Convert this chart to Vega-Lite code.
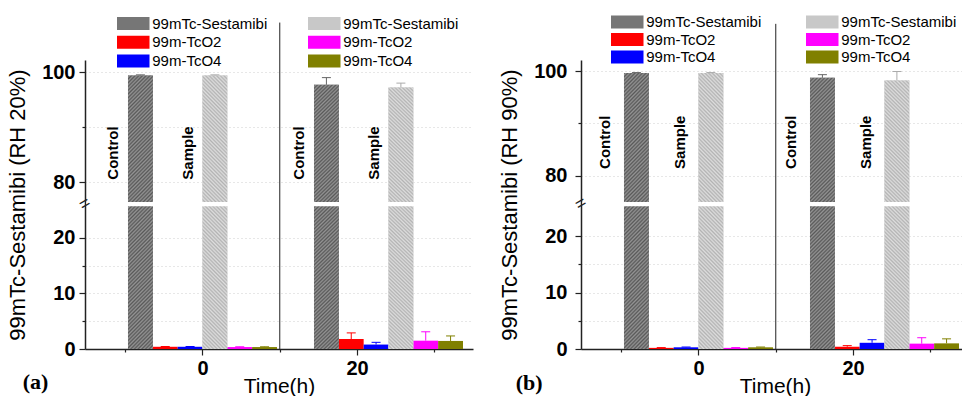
{
  "$schema": "https://vega.github.io/schema/vega-lite/v6.json",
  "padding": {"left": 6, "top": 14, "right": 0, "bottom": 0},
  "config": {
    "font": "Liberation Sans",
    "view": {"stroke": null},
    "axis": {"labelFont": "Liberation Sans", "titleFont": "Liberation Sans", "labelColor": "black", "titleColor": "black", "domainColor": "#222", "tickColor": "#222", "domainWidth": 1.5, "tickWidth": 1.2},
    "legend": {"labelFont": "Liberation Sans", "labelFontSize": 15}
  },
  "datasets": {
    "a": [
      {"time": 0, "group": "Control", "species": "99mTc-Sestamibi", "series": "C-Sestamibi", "value": 99.4, "upper": 99.5},
      {"time": 0, "group": "Control", "species": "99m-TcO2", "series": "C-TcO2", "value": 0.4, "upper": 0.45},
      {"time": 0, "group": "Control", "species": "99m-TcO4", "series": "C-TcO4", "value": 0.4, "upper": 0.45},
      {"time": 0, "group": "Sample", "species": "99mTc-Sestamibi", "series": "S-Sestamibi", "value": 99.4, "upper": 99.5},
      {"time": 0, "group": "Sample", "species": "99m-TcO2", "series": "S-TcO2", "value": 0.35, "upper": 0.4},
      {"time": 0, "group": "Sample", "species": "99m-TcO4", "series": "S-TcO4", "value": 0.35, "upper": 0.4},
      {"time": 20, "group": "Control", "species": "99mTc-Sestamibi", "series": "C-Sestamibi", "value": 97.7, "upper": 99.0},
      {"time": 20, "group": "Control", "species": "99m-TcO2", "series": "C-TcO2", "value": 1.8, "upper": 2.9},
      {"time": 20, "group": "Control", "species": "99m-TcO4", "series": "C-TcO4", "value": 0.8, "upper": 1.2},
      {"time": 20, "group": "Sample", "species": "99mTc-Sestamibi", "series": "S-Sestamibi", "value": 97.2, "upper": 98.0},
      {"time": 20, "group": "Sample", "species": "99m-TcO2", "series": "S-TcO2", "value": 1.5, "upper": 3.1},
      {"time": 20, "group": "Sample", "species": "99m-TcO4", "series": "S-TcO4", "value": 1.45, "upper": 2.35}
    ],
    "b": [
      {"time": 0, "group": "Control", "species": "99mTc-Sestamibi", "series": "C-Sestamibi", "value": 99.6, "upper": 99.7},
      {"time": 0, "group": "Control", "species": "99m-TcO2", "series": "C-TcO2", "value": 0.2, "upper": 0.25},
      {"time": 0, "group": "Control", "species": "99m-TcO4", "series": "C-TcO4", "value": 0.3, "upper": 0.35},
      {"time": 0, "group": "Sample", "species": "99mTc-Sestamibi", "series": "S-Sestamibi", "value": 99.6, "upper": 99.7},
      {"time": 0, "group": "Sample", "species": "99m-TcO2", "series": "S-TcO2", "value": 0.2, "upper": 0.25},
      {"time": 0, "group": "Sample", "species": "99m-TcO4", "series": "S-TcO4", "value": 0.3, "upper": 0.35},
      {"time": 20, "group": "Control", "species": "99mTc-Sestamibi", "series": "C-Sestamibi", "value": 98.7, "upper": 99.3},
      {"time": 20, "group": "Control", "species": "99m-TcO2", "series": "C-TcO2", "value": 0.4, "upper": 0.6},
      {"time": 20, "group": "Control", "species": "99m-TcO4", "series": "C-TcO4", "value": 1.1, "upper": 1.65},
      {"time": 20, "group": "Sample", "species": "99mTc-Sestamibi", "series": "S-Sestamibi", "value": 98.2, "upper": 99.9},
      {"time": 20, "group": "Sample", "species": "99m-TcO2", "series": "S-TcO2", "value": 0.95, "upper": 2.0},
      {"time": 20, "group": "Sample", "species": "99m-TcO4", "series": "S-TcO4", "value": 1.0, "upper": 1.8}
    ]
  },
  "spacing": 25,
  "resolve": {"scale": {"color": "independent", "fill": "independent", "stroke": "independent"}, "legend": {"color": "independent", "fill": "independent"}},
  "hconcat": [
    {
      "width": 388,
      "height": 289,
      "resolve": {"scale": {"x": "independent"}},
      "layer": [
        {
          "data": {"name": "a"},
          "encoding": {
            "x": {"field": "time", "type": "ordinal", "scale": {"domain": [0, 20], "paddingInner": 0.199, "paddingOuter": 0.1425, "align": 0.811}, "axis": null},
            "xOffset": {"field": "series", "type": "nominal", "scale": {"domain": ["C-Sestamibi", "C-TcO2", "C-TcO4", "S-Sestamibi", "S-TcO2", "S-TcO4"], "paddingInner": 0, "paddingOuter": 0}}
          },
          "layer": [
            {
              "transform": [{"filter": "datum.group == 'Control'"}],
              "mark": {"type": "bar"},
              "encoding": {
                "y": {"field": "value", "type": "quantitative",
                  "scale": {"domain": [0, 25.7, 76.4, 102.2], "range": [289, 146.3, 142, 0], "nice": false, "zero": false},
                  "axis": {"values": [0, 5, 10, 15, 20, 80, 90, 100],
                    "labelExpr": "indexof([0, 10, 20, 80, 100], datum.value) >= 0 ? datum.label : ''",
                    "tickSize": {"condition": {"test": "indexof([0, 10, 20, 80, 100], datum.value) >= 0", "value": 6}, "value": 3},
                    "grid": true, "gridDash": [1, 3], "gridColor": "#cfcfcf",
                    "title": "99mTc-Sestamibi (RH 20%)", "titleFontSize": 22, "titleFontWeight": "normal", "titlePadding": 12,
                    "labelFontSize": 20, "labelFontWeight": "bold", "labelPadding": 4}},
                "color": {"field": "species", "type": "nominal",
                  "scale": {"domain": ["99mTc-Sestamibi", "99m-TcO2", "99m-TcO4"], "range": ["#767676", "#ff0000", "#0000ff"]},
                  "legend": {"orient": "none", "legendX": 35, "legendY": -44, "title": null, "padding": 0,
                    "symbolType": "M-2.5,-1H2.5V1H-2.5Z", "symbolSize": 169, "symbolStrokeWidth": 0, "symbolOffset": 5.75,
                    "labelOffset": 11.5, "labelFontSize": 15, "labelColor": "black", "rowPadding": 2.8, "labelLimit": 300}}
              }
            },
            {
              "transform": [{"filter": "datum.group == 'Sample'"}],
              "mark": {"type": "bar"},
              "encoding": {
                "y": {"field": "value", "type": "quantitative"},
                "fill": {"field": "series", "type": "nominal",
                  "scale": {"domain": ["S-Sestamibi", "S-TcO2", "S-TcO4"], "range": ["#c8c8c8", "#ff00ff", "#808000"]},
                  "legend": {"orient": "none", "legendX": 226, "legendY": -44, "title": null, "padding": 0,
                    "labelExpr": "datum.label == 'S-Sestamibi' ? '99mTc-Sestamibi' : datum.label == 'S-TcO2' ? '99m-TcO2' : '99m-TcO4'",
                    "symbolType": "M-2.5,-1H2.5V1H-2.5Z", "symbolSize": 169, "symbolStrokeWidth": 0, "symbolOffset": 5.75,
                    "labelOffset": 11.5, "labelFontSize": 15, "labelColor": "black", "rowPadding": 2.8, "labelLimit": 300}}
              }
            },
            {
              "transform": [{"filter": "datum.series == 'C-Sestamibi'"}],
              "mark": {"type": "bar", "fill": {"gradient": "linear", "x1": 0, "y1": 0, "x2": 0.0996, "y2": 1.083, "stops": [
        {"offset":0,"color":"#595959"},{"offset":0.00625,"color":"#949494"},{"offset":0.0125,"color":"#595959"},{"offset":0.01875,"color":"#949494"},{"offset":0.025,"color":"#595959"},{"offset":0.03125,"color":"#949494"},{"offset":0.0375,"color":"#595959"},{"offset":0.04375,"color":"#949494"},{"offset":0.05,"color":"#595959"},{"offset":0.05625,"color":"#949494"},{"offset":0.0625,"color":"#595959"},{"offset":0.06875,"color":"#949494"},{"offset":0.075,"color":"#595959"},{"offset":0.08125,"color":"#949494"},{"offset":0.0875,"color":"#595959"},{"offset":0.09375,"color":"#949494"},
        {"offset":0.1,"color":"#595959"},{"offset":0.10625,"color":"#949494"},{"offset":0.1125,"color":"#595959"},{"offset":0.11875,"color":"#949494"},{"offset":0.125,"color":"#595959"},{"offset":0.13125,"color":"#949494"},{"offset":0.1375,"color":"#595959"},{"offset":0.14375,"color":"#949494"},{"offset":0.15,"color":"#595959"},{"offset":0.15625,"color":"#949494"},{"offset":0.1625,"color":"#595959"},{"offset":0.16875,"color":"#949494"},{"offset":0.175,"color":"#595959"},{"offset":0.18125,"color":"#949494"},{"offset":0.1875,"color":"#595959"},{"offset":0.19375,"color":"#949494"},
        {"offset":0.2,"color":"#595959"},{"offset":0.20625,"color":"#949494"},{"offset":0.2125,"color":"#595959"},{"offset":0.21875,"color":"#949494"},{"offset":0.225,"color":"#595959"},{"offset":0.23125,"color":"#949494"},{"offset":0.2375,"color":"#595959"},{"offset":0.24375,"color":"#949494"},{"offset":0.25,"color":"#595959"},{"offset":0.25625,"color":"#949494"},{"offset":0.2625,"color":"#595959"},{"offset":0.26875,"color":"#949494"},{"offset":0.275,"color":"#595959"},{"offset":0.28125,"color":"#949494"},{"offset":0.2875,"color":"#595959"},{"offset":0.29375,"color":"#949494"},
        {"offset":0.3,"color":"#595959"},{"offset":0.30625,"color":"#949494"},{"offset":0.3125,"color":"#595959"},{"offset":0.31875,"color":"#949494"},{"offset":0.325,"color":"#595959"},{"offset":0.33125,"color":"#949494"},{"offset":0.3375,"color":"#595959"},{"offset":0.34375,"color":"#949494"},{"offset":0.35,"color":"#595959"},{"offset":0.35625,"color":"#949494"},{"offset":0.3625,"color":"#595959"},{"offset":0.36875,"color":"#949494"},{"offset":0.375,"color":"#595959"},{"offset":0.38125,"color":"#949494"},{"offset":0.3875,"color":"#595959"},{"offset":0.39375,"color":"#949494"},
        {"offset":0.4,"color":"#595959"},{"offset":0.40625,"color":"#949494"},{"offset":0.4125,"color":"#595959"},{"offset":0.41875,"color":"#949494"},{"offset":0.425,"color":"#595959"},{"offset":0.43125,"color":"#949494"},{"offset":0.4375,"color":"#595959"},{"offset":0.44375,"color":"#949494"},{"offset":0.45,"color":"#595959"},{"offset":0.45625,"color":"#949494"},{"offset":0.4625,"color":"#595959"},{"offset":0.46875,"color":"#949494"},{"offset":0.475,"color":"#595959"},{"offset":0.48125,"color":"#949494"},{"offset":0.4875,"color":"#595959"},{"offset":0.49375,"color":"#949494"},
        {"offset":0.5,"color":"#595959"},{"offset":0.50625,"color":"#949494"},{"offset":0.5125,"color":"#595959"},{"offset":0.51875,"color":"#949494"},{"offset":0.525,"color":"#595959"},{"offset":0.53125,"color":"#949494"},{"offset":0.5375,"color":"#595959"},{"offset":0.54375,"color":"#949494"},{"offset":0.55,"color":"#595959"},{"offset":0.55625,"color":"#949494"},{"offset":0.5625,"color":"#595959"},{"offset":0.56875,"color":"#949494"},{"offset":0.575,"color":"#595959"},{"offset":0.58125,"color":"#949494"},{"offset":0.5875,"color":"#595959"},{"offset":0.59375,"color":"#949494"},
        {"offset":0.6,"color":"#595959"},{"offset":0.60625,"color":"#949494"},{"offset":0.6125,"color":"#595959"},{"offset":0.61875,"color":"#949494"},{"offset":0.625,"color":"#595959"},{"offset":0.63125,"color":"#949494"},{"offset":0.6375,"color":"#595959"},{"offset":0.64375,"color":"#949494"},{"offset":0.65,"color":"#595959"},{"offset":0.65625,"color":"#949494"},{"offset":0.6625,"color":"#595959"},{"offset":0.66875,"color":"#949494"},{"offset":0.675,"color":"#595959"},{"offset":0.68125,"color":"#949494"},{"offset":0.6875,"color":"#595959"},{"offset":0.69375,"color":"#949494"},
        {"offset":0.7,"color":"#595959"},{"offset":0.70625,"color":"#949494"},{"offset":0.7125,"color":"#595959"},{"offset":0.71875,"color":"#949494"},{"offset":0.725,"color":"#595959"},{"offset":0.73125,"color":"#949494"},{"offset":0.7375,"color":"#595959"},{"offset":0.74375,"color":"#949494"},{"offset":0.75,"color":"#595959"},{"offset":0.75625,"color":"#949494"},{"offset":0.7625,"color":"#595959"},{"offset":0.76875,"color":"#949494"},{"offset":0.775,"color":"#595959"},{"offset":0.78125,"color":"#949494"},{"offset":0.7875,"color":"#595959"},{"offset":0.79375,"color":"#949494"},
        {"offset":0.8,"color":"#595959"},{"offset":0.80625,"color":"#949494"},{"offset":0.8125,"color":"#595959"},{"offset":0.81875,"color":"#949494"},{"offset":0.825,"color":"#595959"},{"offset":0.83125,"color":"#949494"},{"offset":0.8375,"color":"#595959"},{"offset":0.84375,"color":"#949494"},{"offset":0.85,"color":"#595959"},{"offset":0.85625,"color":"#949494"},{"offset":0.8625,"color":"#595959"},{"offset":0.86875,"color":"#949494"},{"offset":0.875,"color":"#595959"},{"offset":0.88125,"color":"#949494"},{"offset":0.8875,"color":"#595959"},{"offset":0.89375,"color":"#949494"},
        {"offset":0.9,"color":"#595959"},{"offset":0.90625,"color":"#949494"},{"offset":0.9125,"color":"#595959"},{"offset":0.91875,"color":"#949494"},{"offset":0.925,"color":"#595959"},{"offset":0.93125,"color":"#949494"},{"offset":0.9375,"color":"#595959"},{"offset":0.94375,"color":"#949494"},{"offset":0.95,"color":"#595959"},{"offset":0.95625,"color":"#949494"},{"offset":0.9625,"color":"#595959"},{"offset":0.96875,"color":"#949494"},{"offset":0.975,"color":"#595959"},{"offset":0.98125,"color":"#949494"},{"offset":0.9875,"color":"#595959"},{"offset":0.99375,"color":"#949494"},
        {"offset":1,"color":"#595959"}]}},
              "encoding": {"y": {"field": "value", "type": "quantitative"}}
            },
            {
              "transform": [{"filter": "datum.series == 'S-Sestamibi'"}],
              "mark": {"type": "bar", "fill": {"gradient": "linear", "x1": 0, "y1": 1, "x2": 0.0996, "y2": -0.083, "stops": [
        {"offset":0,"color":"#b3b3b3"},{"offset":0.00625,"color":"#dddddd"},{"offset":0.0125,"color":"#b3b3b3"},{"offset":0.01875,"color":"#dddddd"},{"offset":0.025,"color":"#b3b3b3"},{"offset":0.03125,"color":"#dddddd"},{"offset":0.0375,"color":"#b3b3b3"},{"offset":0.04375,"color":"#dddddd"},{"offset":0.05,"color":"#b3b3b3"},{"offset":0.05625,"color":"#dddddd"},{"offset":0.0625,"color":"#b3b3b3"},{"offset":0.06875,"color":"#dddddd"},{"offset":0.075,"color":"#b3b3b3"},{"offset":0.08125,"color":"#dddddd"},{"offset":0.0875,"color":"#b3b3b3"},{"offset":0.09375,"color":"#dddddd"},
        {"offset":0.1,"color":"#b3b3b3"},{"offset":0.10625,"color":"#dddddd"},{"offset":0.1125,"color":"#b3b3b3"},{"offset":0.11875,"color":"#dddddd"},{"offset":0.125,"color":"#b3b3b3"},{"offset":0.13125,"color":"#dddddd"},{"offset":0.1375,"color":"#b3b3b3"},{"offset":0.14375,"color":"#dddddd"},{"offset":0.15,"color":"#b3b3b3"},{"offset":0.15625,"color":"#dddddd"},{"offset":0.1625,"color":"#b3b3b3"},{"offset":0.16875,"color":"#dddddd"},{"offset":0.175,"color":"#b3b3b3"},{"offset":0.18125,"color":"#dddddd"},{"offset":0.1875,"color":"#b3b3b3"},{"offset":0.19375,"color":"#dddddd"},
        {"offset":0.2,"color":"#b3b3b3"},{"offset":0.20625,"color":"#dddddd"},{"offset":0.2125,"color":"#b3b3b3"},{"offset":0.21875,"color":"#dddddd"},{"offset":0.225,"color":"#b3b3b3"},{"offset":0.23125,"color":"#dddddd"},{"offset":0.2375,"color":"#b3b3b3"},{"offset":0.24375,"color":"#dddddd"},{"offset":0.25,"color":"#b3b3b3"},{"offset":0.25625,"color":"#dddddd"},{"offset":0.2625,"color":"#b3b3b3"},{"offset":0.26875,"color":"#dddddd"},{"offset":0.275,"color":"#b3b3b3"},{"offset":0.28125,"color":"#dddddd"},{"offset":0.2875,"color":"#b3b3b3"},{"offset":0.29375,"color":"#dddddd"},
        {"offset":0.3,"color":"#b3b3b3"},{"offset":0.30625,"color":"#dddddd"},{"offset":0.3125,"color":"#b3b3b3"},{"offset":0.31875,"color":"#dddddd"},{"offset":0.325,"color":"#b3b3b3"},{"offset":0.33125,"color":"#dddddd"},{"offset":0.3375,"color":"#b3b3b3"},{"offset":0.34375,"color":"#dddddd"},{"offset":0.35,"color":"#b3b3b3"},{"offset":0.35625,"color":"#dddddd"},{"offset":0.3625,"color":"#b3b3b3"},{"offset":0.36875,"color":"#dddddd"},{"offset":0.375,"color":"#b3b3b3"},{"offset":0.38125,"color":"#dddddd"},{"offset":0.3875,"color":"#b3b3b3"},{"offset":0.39375,"color":"#dddddd"},
        {"offset":0.4,"color":"#b3b3b3"},{"offset":0.40625,"color":"#dddddd"},{"offset":0.4125,"color":"#b3b3b3"},{"offset":0.41875,"color":"#dddddd"},{"offset":0.425,"color":"#b3b3b3"},{"offset":0.43125,"color":"#dddddd"},{"offset":0.4375,"color":"#b3b3b3"},{"offset":0.44375,"color":"#dddddd"},{"offset":0.45,"color":"#b3b3b3"},{"offset":0.45625,"color":"#dddddd"},{"offset":0.4625,"color":"#b3b3b3"},{"offset":0.46875,"color":"#dddddd"},{"offset":0.475,"color":"#b3b3b3"},{"offset":0.48125,"color":"#dddddd"},{"offset":0.4875,"color":"#b3b3b3"},{"offset":0.49375,"color":"#dddddd"},
        {"offset":0.5,"color":"#b3b3b3"},{"offset":0.50625,"color":"#dddddd"},{"offset":0.5125,"color":"#b3b3b3"},{"offset":0.51875,"color":"#dddddd"},{"offset":0.525,"color":"#b3b3b3"},{"offset":0.53125,"color":"#dddddd"},{"offset":0.5375,"color":"#b3b3b3"},{"offset":0.54375,"color":"#dddddd"},{"offset":0.55,"color":"#b3b3b3"},{"offset":0.55625,"color":"#dddddd"},{"offset":0.5625,"color":"#b3b3b3"},{"offset":0.56875,"color":"#dddddd"},{"offset":0.575,"color":"#b3b3b3"},{"offset":0.58125,"color":"#dddddd"},{"offset":0.5875,"color":"#b3b3b3"},{"offset":0.59375,"color":"#dddddd"},
        {"offset":0.6,"color":"#b3b3b3"},{"offset":0.60625,"color":"#dddddd"},{"offset":0.6125,"color":"#b3b3b3"},{"offset":0.61875,"color":"#dddddd"},{"offset":0.625,"color":"#b3b3b3"},{"offset":0.63125,"color":"#dddddd"},{"offset":0.6375,"color":"#b3b3b3"},{"offset":0.64375,"color":"#dddddd"},{"offset":0.65,"color":"#b3b3b3"},{"offset":0.65625,"color":"#dddddd"},{"offset":0.6625,"color":"#b3b3b3"},{"offset":0.66875,"color":"#dddddd"},{"offset":0.675,"color":"#b3b3b3"},{"offset":0.68125,"color":"#dddddd"},{"offset":0.6875,"color":"#b3b3b3"},{"offset":0.69375,"color":"#dddddd"},
        {"offset":0.7,"color":"#b3b3b3"},{"offset":0.70625,"color":"#dddddd"},{"offset":0.7125,"color":"#b3b3b3"},{"offset":0.71875,"color":"#dddddd"},{"offset":0.725,"color":"#b3b3b3"},{"offset":0.73125,"color":"#dddddd"},{"offset":0.7375,"color":"#b3b3b3"},{"offset":0.74375,"color":"#dddddd"},{"offset":0.75,"color":"#b3b3b3"},{"offset":0.75625,"color":"#dddddd"},{"offset":0.7625,"color":"#b3b3b3"},{"offset":0.76875,"color":"#dddddd"},{"offset":0.775,"color":"#b3b3b3"},{"offset":0.78125,"color":"#dddddd"},{"offset":0.7875,"color":"#b3b3b3"},{"offset":0.79375,"color":"#dddddd"},
        {"offset":0.8,"color":"#b3b3b3"},{"offset":0.80625,"color":"#dddddd"},{"offset":0.8125,"color":"#b3b3b3"},{"offset":0.81875,"color":"#dddddd"},{"offset":0.825,"color":"#b3b3b3"},{"offset":0.83125,"color":"#dddddd"},{"offset":0.8375,"color":"#b3b3b3"},{"offset":0.84375,"color":"#dddddd"},{"offset":0.85,"color":"#b3b3b3"},{"offset":0.85625,"color":"#dddddd"},{"offset":0.8625,"color":"#b3b3b3"},{"offset":0.86875,"color":"#dddddd"},{"offset":0.875,"color":"#b3b3b3"},{"offset":0.88125,"color":"#dddddd"},{"offset":0.8875,"color":"#b3b3b3"},{"offset":0.89375,"color":"#dddddd"},
        {"offset":0.9,"color":"#b3b3b3"},{"offset":0.90625,"color":"#dddddd"},{"offset":0.9125,"color":"#b3b3b3"},{"offset":0.91875,"color":"#dddddd"},{"offset":0.925,"color":"#b3b3b3"},{"offset":0.93125,"color":"#dddddd"},{"offset":0.9375,"color":"#b3b3b3"},{"offset":0.94375,"color":"#dddddd"},{"offset":0.95,"color":"#b3b3b3"},{"offset":0.95625,"color":"#dddddd"},{"offset":0.9625,"color":"#b3b3b3"},{"offset":0.96875,"color":"#dddddd"},{"offset":0.975,"color":"#b3b3b3"},{"offset":0.98125,"color":"#dddddd"},{"offset":0.9875,"color":"#b3b3b3"},{"offset":0.99375,"color":"#dddddd"},
        {"offset":1,"color":"#b3b3b3"}]}},
              "encoding": {"y": {"field": "value", "type": "quantitative"}}
            },
            {
              "mark": {"type": "rule", "strokeWidth": 1},
              "encoding": {
                "y": {"field": "value", "type": "quantitative"},
                "y2": {"field": "upper"},
                "stroke": {"field": "series", "type": "nominal", "legend": null,
                  "scale": {"domain": ["C-Sestamibi", "C-TcO2", "C-TcO4", "S-Sestamibi", "S-TcO2", "S-TcO4"], "range": ["#666666", "#ff0000", "#0000ff", "#aaaaaa", "#ff00ff", "#808000"]}}
              }
            },
            {
              "mark": {"type": "point", "shape": "stroke", "size": 81, "strokeWidth": 1, "opacity": 1},
              "encoding": {
                "y": {"field": "upper", "type": "quantitative"},
                "stroke": {"field": "series", "type": "nominal", "legend": null}
              }
            },
            {
              "transform": [{"filter": "datum.species == '99mTc-Sestamibi'"}],
              "mark": {"type": "text", "angle": 270, "dy": -27, "fontSize": 15, "fontWeight": "bold", "align": "center", "baseline": "middle", "color": "black"},
              "encoding": {
                "y": {"datum": 85.3, "type": "quantitative"},
                "text": {"field": "group"}
              }
            }
          ]
        },
        {
          "data": {"values": [{}]},
          "layer": [
            {
              "mark": {"type": "rect", "color": "white"},
              "encoding": {
                "x": {"datum": -15, "type": "quantitative", "scale": {"domain": [-15.2, 35], "nice": false, "zero": false},
                  "axis": {"values": [-10, 0, 10, 20, 30],
                    "labelExpr": "datum.value == 0 || datum.value == 20 ? datum.label : ''",
                    "tickSize": {"condition": {"test": "datum.value == 0 || datum.value == 20", "value": 6}, "value": 3},
                    "grid": false, "title": "Time(h)", "titleFontSize": 21, "titleFontWeight": "normal", "titlePadding": -3,
                    "labelFontSize": 20, "labelFontWeight": "bold", "labelPadding": 3, "labelFlush": false}},
                "x2": {"datum": 35},
                "y": {"datum": 25.7, "type": "quantitative"},
                "y2": {"datum": 76.4}
              }
            },
            {
              "mark": {"type": "rule", "color": "#222", "strokeWidth": 1},
              "encoding": {
                "x": {"datum": 10, "type": "quantitative"},
                "y": {"datum": 0, "type": "quantitative"},
                "y2": {"datum": 109}
              }
            },
            {
              "mark": {"type": "text", "text": "=", "angle": 330, "fontSize": 18, "color": "#222", "align": "center", "baseline": "middle"},
              "encoding": {
                "x": {"datum": -15.2, "type": "quantitative"},
                "y": {"datum": 50, "type": "quantitative"}
              }
            },
            {
              "mark": {"type": "text", "text": "(a)", "font": "Liberation Serif", "fontWeight": "bold", "fontSize": 22, "color": "black", "align": "center", "baseline": "middle"},
              "encoding": {
                "x": {"datum": -21.6, "type": "quantitative"},
                "y": {"datum": -6.0, "type": "quantitative"}
              }
            }
          ]
        }
      ]
    },
    {
      "width": 388,
      "height": 289,
      "resolve": {"scale": {"x": "independent"}},
      "layer": [
        {
          "data": {"name": "b"},
          "encoding": {
            "x": {"field": "time", "type": "ordinal", "scale": {"domain": [0, 20], "paddingInner": 0.199, "paddingOuter": 0.1425, "align": 0.811}, "axis": null},
            "xOffset": {"field": "series", "type": "nominal", "scale": {"domain": ["C-Sestamibi", "C-TcO2", "C-TcO4", "S-Sestamibi", "S-TcO2", "S-TcO4"], "paddingInner": 0, "paddingOuter": 0}}
          },
          "layer": [
            {
              "transform": [{"filter": "datum.group == 'Control'"}],
              "mark": {"type": "bar"},
              "encoding": {
                "y": {"field": "value", "type": "quantitative",
                  "scale": {"domain": [0, 25.3, 75.0, 102.1], "range": [289, 146.3, 142, 0], "nice": false, "zero": false},
                  "axis": {"values": [0, 5, 10, 15, 20, 80, 90, 100],
                    "labelExpr": "indexof([0, 10, 20, 80, 100], datum.value) >= 0 ? datum.label : ''",
                    "tickSize": {"condition": {"test": "indexof([0, 10, 20, 80, 100], datum.value) >= 0", "value": 6}, "value": 3},
                    "grid": true, "gridDash": [1, 3], "gridColor": "#cfcfcf",
                    "title": "99mTc-Sestamibi (RH 90%)", "titleFontSize": 22, "titleFontWeight": "normal", "titlePadding": 12,
                    "labelFontSize": 20, "labelFontWeight": "bold", "labelPadding": 8}},
                "color": {"field": "species", "type": "nominal",
                  "scale": {"domain": ["99mTc-Sestamibi", "99m-TcO2", "99m-TcO4"], "range": ["#767676", "#ff0000", "#0000ff"]},
                  "legend": {"orient": "none", "legendX": 33, "legendY": -45.5, "title": null, "padding": 0,
                    "symbolType": "M-2.5,-1H2.5V1H-2.5Z", "symbolSize": 169, "symbolStrokeWidth": 0, "symbolOffset": 5.75,
                    "labelOffset": 11.5, "labelFontSize": 15, "labelColor": "black", "rowPadding": 1.5, "labelLimit": 300}}
              }
            },
            {
              "transform": [{"filter": "datum.group == 'Sample'"}],
              "mark": {"type": "bar"},
              "encoding": {
                "y": {"field": "value", "type": "quantitative"},
                "fill": {"field": "series", "type": "nominal",
                  "scale": {"domain": ["S-Sestamibi", "S-TcO2", "S-TcO4"], "range": ["#c8c8c8", "#ff00ff", "#808000"]},
                  "legend": {"orient": "none", "legendX": 228, "legendY": -45.5, "title": null, "padding": 0,
                    "labelExpr": "datum.label == 'S-Sestamibi' ? '99mTc-Sestamibi' : datum.label == 'S-TcO2' ? '99m-TcO2' : '99m-TcO4'",
                    "symbolType": "M-2.5,-1H2.5V1H-2.5Z", "symbolSize": 169, "symbolStrokeWidth": 0, "symbolOffset": 5.75,
                    "labelOffset": 11.5, "labelFontSize": 15, "labelColor": "black", "rowPadding": 1.5, "labelLimit": 300}}
              }
            },
            {
              "transform": [{"filter": "datum.series == 'C-Sestamibi'"}],
              "mark": {"type": "bar", "fill": {"gradient": "linear", "x1": 0, "y1": 0, "x2": 0.0996, "y2": 1.083, "stops": [
        {"offset":0,"color":"#595959"},{"offset":0.00625,"color":"#949494"},{"offset":0.0125,"color":"#595959"},{"offset":0.01875,"color":"#949494"},{"offset":0.025,"color":"#595959"},{"offset":0.03125,"color":"#949494"},{"offset":0.0375,"color":"#595959"},{"offset":0.04375,"color":"#949494"},{"offset":0.05,"color":"#595959"},{"offset":0.05625,"color":"#949494"},{"offset":0.0625,"color":"#595959"},{"offset":0.06875,"color":"#949494"},{"offset":0.075,"color":"#595959"},{"offset":0.08125,"color":"#949494"},{"offset":0.0875,"color":"#595959"},{"offset":0.09375,"color":"#949494"},
        {"offset":0.1,"color":"#595959"},{"offset":0.10625,"color":"#949494"},{"offset":0.1125,"color":"#595959"},{"offset":0.11875,"color":"#949494"},{"offset":0.125,"color":"#595959"},{"offset":0.13125,"color":"#949494"},{"offset":0.1375,"color":"#595959"},{"offset":0.14375,"color":"#949494"},{"offset":0.15,"color":"#595959"},{"offset":0.15625,"color":"#949494"},{"offset":0.1625,"color":"#595959"},{"offset":0.16875,"color":"#949494"},{"offset":0.175,"color":"#595959"},{"offset":0.18125,"color":"#949494"},{"offset":0.1875,"color":"#595959"},{"offset":0.19375,"color":"#949494"},
        {"offset":0.2,"color":"#595959"},{"offset":0.20625,"color":"#949494"},{"offset":0.2125,"color":"#595959"},{"offset":0.21875,"color":"#949494"},{"offset":0.225,"color":"#595959"},{"offset":0.23125,"color":"#949494"},{"offset":0.2375,"color":"#595959"},{"offset":0.24375,"color":"#949494"},{"offset":0.25,"color":"#595959"},{"offset":0.25625,"color":"#949494"},{"offset":0.2625,"color":"#595959"},{"offset":0.26875,"color":"#949494"},{"offset":0.275,"color":"#595959"},{"offset":0.28125,"color":"#949494"},{"offset":0.2875,"color":"#595959"},{"offset":0.29375,"color":"#949494"},
        {"offset":0.3,"color":"#595959"},{"offset":0.30625,"color":"#949494"},{"offset":0.3125,"color":"#595959"},{"offset":0.31875,"color":"#949494"},{"offset":0.325,"color":"#595959"},{"offset":0.33125,"color":"#949494"},{"offset":0.3375,"color":"#595959"},{"offset":0.34375,"color":"#949494"},{"offset":0.35,"color":"#595959"},{"offset":0.35625,"color":"#949494"},{"offset":0.3625,"color":"#595959"},{"offset":0.36875,"color":"#949494"},{"offset":0.375,"color":"#595959"},{"offset":0.38125,"color":"#949494"},{"offset":0.3875,"color":"#595959"},{"offset":0.39375,"color":"#949494"},
        {"offset":0.4,"color":"#595959"},{"offset":0.40625,"color":"#949494"},{"offset":0.4125,"color":"#595959"},{"offset":0.41875,"color":"#949494"},{"offset":0.425,"color":"#595959"},{"offset":0.43125,"color":"#949494"},{"offset":0.4375,"color":"#595959"},{"offset":0.44375,"color":"#949494"},{"offset":0.45,"color":"#595959"},{"offset":0.45625,"color":"#949494"},{"offset":0.4625,"color":"#595959"},{"offset":0.46875,"color":"#949494"},{"offset":0.475,"color":"#595959"},{"offset":0.48125,"color":"#949494"},{"offset":0.4875,"color":"#595959"},{"offset":0.49375,"color":"#949494"},
        {"offset":0.5,"color":"#595959"},{"offset":0.50625,"color":"#949494"},{"offset":0.5125,"color":"#595959"},{"offset":0.51875,"color":"#949494"},{"offset":0.525,"color":"#595959"},{"offset":0.53125,"color":"#949494"},{"offset":0.5375,"color":"#595959"},{"offset":0.54375,"color":"#949494"},{"offset":0.55,"color":"#595959"},{"offset":0.55625,"color":"#949494"},{"offset":0.5625,"color":"#595959"},{"offset":0.56875,"color":"#949494"},{"offset":0.575,"color":"#595959"},{"offset":0.58125,"color":"#949494"},{"offset":0.5875,"color":"#595959"},{"offset":0.59375,"color":"#949494"},
        {"offset":0.6,"color":"#595959"},{"offset":0.60625,"color":"#949494"},{"offset":0.6125,"color":"#595959"},{"offset":0.61875,"color":"#949494"},{"offset":0.625,"color":"#595959"},{"offset":0.63125,"color":"#949494"},{"offset":0.6375,"color":"#595959"},{"offset":0.64375,"color":"#949494"},{"offset":0.65,"color":"#595959"},{"offset":0.65625,"color":"#949494"},{"offset":0.6625,"color":"#595959"},{"offset":0.66875,"color":"#949494"},{"offset":0.675,"color":"#595959"},{"offset":0.68125,"color":"#949494"},{"offset":0.6875,"color":"#595959"},{"offset":0.69375,"color":"#949494"},
        {"offset":0.7,"color":"#595959"},{"offset":0.70625,"color":"#949494"},{"offset":0.7125,"color":"#595959"},{"offset":0.71875,"color":"#949494"},{"offset":0.725,"color":"#595959"},{"offset":0.73125,"color":"#949494"},{"offset":0.7375,"color":"#595959"},{"offset":0.74375,"color":"#949494"},{"offset":0.75,"color":"#595959"},{"offset":0.75625,"color":"#949494"},{"offset":0.7625,"color":"#595959"},{"offset":0.76875,"color":"#949494"},{"offset":0.775,"color":"#595959"},{"offset":0.78125,"color":"#949494"},{"offset":0.7875,"color":"#595959"},{"offset":0.79375,"color":"#949494"},
        {"offset":0.8,"color":"#595959"},{"offset":0.80625,"color":"#949494"},{"offset":0.8125,"color":"#595959"},{"offset":0.81875,"color":"#949494"},{"offset":0.825,"color":"#595959"},{"offset":0.83125,"color":"#949494"},{"offset":0.8375,"color":"#595959"},{"offset":0.84375,"color":"#949494"},{"offset":0.85,"color":"#595959"},{"offset":0.85625,"color":"#949494"},{"offset":0.8625,"color":"#595959"},{"offset":0.86875,"color":"#949494"},{"offset":0.875,"color":"#595959"},{"offset":0.88125,"color":"#949494"},{"offset":0.8875,"color":"#595959"},{"offset":0.89375,"color":"#949494"},
        {"offset":0.9,"color":"#595959"},{"offset":0.90625,"color":"#949494"},{"offset":0.9125,"color":"#595959"},{"offset":0.91875,"color":"#949494"},{"offset":0.925,"color":"#595959"},{"offset":0.93125,"color":"#949494"},{"offset":0.9375,"color":"#595959"},{"offset":0.94375,"color":"#949494"},{"offset":0.95,"color":"#595959"},{"offset":0.95625,"color":"#949494"},{"offset":0.9625,"color":"#595959"},{"offset":0.96875,"color":"#949494"},{"offset":0.975,"color":"#595959"},{"offset":0.98125,"color":"#949494"},{"offset":0.9875,"color":"#595959"},{"offset":0.99375,"color":"#949494"},
        {"offset":1,"color":"#595959"}]}},
              "encoding": {"y": {"field": "value", "type": "quantitative"}}
            },
            {
              "transform": [{"filter": "datum.series == 'S-Sestamibi'"}],
              "mark": {"type": "bar", "fill": {"gradient": "linear", "x1": 0, "y1": 1, "x2": 0.0996, "y2": -0.083, "stops": [
        {"offset":0,"color":"#b3b3b3"},{"offset":0.00625,"color":"#dddddd"},{"offset":0.0125,"color":"#b3b3b3"},{"offset":0.01875,"color":"#dddddd"},{"offset":0.025,"color":"#b3b3b3"},{"offset":0.03125,"color":"#dddddd"},{"offset":0.0375,"color":"#b3b3b3"},{"offset":0.04375,"color":"#dddddd"},{"offset":0.05,"color":"#b3b3b3"},{"offset":0.05625,"color":"#dddddd"},{"offset":0.0625,"color":"#b3b3b3"},{"offset":0.06875,"color":"#dddddd"},{"offset":0.075,"color":"#b3b3b3"},{"offset":0.08125,"color":"#dddddd"},{"offset":0.0875,"color":"#b3b3b3"},{"offset":0.09375,"color":"#dddddd"},
        {"offset":0.1,"color":"#b3b3b3"},{"offset":0.10625,"color":"#dddddd"},{"offset":0.1125,"color":"#b3b3b3"},{"offset":0.11875,"color":"#dddddd"},{"offset":0.125,"color":"#b3b3b3"},{"offset":0.13125,"color":"#dddddd"},{"offset":0.1375,"color":"#b3b3b3"},{"offset":0.14375,"color":"#dddddd"},{"offset":0.15,"color":"#b3b3b3"},{"offset":0.15625,"color":"#dddddd"},{"offset":0.1625,"color":"#b3b3b3"},{"offset":0.16875,"color":"#dddddd"},{"offset":0.175,"color":"#b3b3b3"},{"offset":0.18125,"color":"#dddddd"},{"offset":0.1875,"color":"#b3b3b3"},{"offset":0.19375,"color":"#dddddd"},
        {"offset":0.2,"color":"#b3b3b3"},{"offset":0.20625,"color":"#dddddd"},{"offset":0.2125,"color":"#b3b3b3"},{"offset":0.21875,"color":"#dddddd"},{"offset":0.225,"color":"#b3b3b3"},{"offset":0.23125,"color":"#dddddd"},{"offset":0.2375,"color":"#b3b3b3"},{"offset":0.24375,"color":"#dddddd"},{"offset":0.25,"color":"#b3b3b3"},{"offset":0.25625,"color":"#dddddd"},{"offset":0.2625,"color":"#b3b3b3"},{"offset":0.26875,"color":"#dddddd"},{"offset":0.275,"color":"#b3b3b3"},{"offset":0.28125,"color":"#dddddd"},{"offset":0.2875,"color":"#b3b3b3"},{"offset":0.29375,"color":"#dddddd"},
        {"offset":0.3,"color":"#b3b3b3"},{"offset":0.30625,"color":"#dddddd"},{"offset":0.3125,"color":"#b3b3b3"},{"offset":0.31875,"color":"#dddddd"},{"offset":0.325,"color":"#b3b3b3"},{"offset":0.33125,"color":"#dddddd"},{"offset":0.3375,"color":"#b3b3b3"},{"offset":0.34375,"color":"#dddddd"},{"offset":0.35,"color":"#b3b3b3"},{"offset":0.35625,"color":"#dddddd"},{"offset":0.3625,"color":"#b3b3b3"},{"offset":0.36875,"color":"#dddddd"},{"offset":0.375,"color":"#b3b3b3"},{"offset":0.38125,"color":"#dddddd"},{"offset":0.3875,"color":"#b3b3b3"},{"offset":0.39375,"color":"#dddddd"},
        {"offset":0.4,"color":"#b3b3b3"},{"offset":0.40625,"color":"#dddddd"},{"offset":0.4125,"color":"#b3b3b3"},{"offset":0.41875,"color":"#dddddd"},{"offset":0.425,"color":"#b3b3b3"},{"offset":0.43125,"color":"#dddddd"},{"offset":0.4375,"color":"#b3b3b3"},{"offset":0.44375,"color":"#dddddd"},{"offset":0.45,"color":"#b3b3b3"},{"offset":0.45625,"color":"#dddddd"},{"offset":0.4625,"color":"#b3b3b3"},{"offset":0.46875,"color":"#dddddd"},{"offset":0.475,"color":"#b3b3b3"},{"offset":0.48125,"color":"#dddddd"},{"offset":0.4875,"color":"#b3b3b3"},{"offset":0.49375,"color":"#dddddd"},
        {"offset":0.5,"color":"#b3b3b3"},{"offset":0.50625,"color":"#dddddd"},{"offset":0.5125,"color":"#b3b3b3"},{"offset":0.51875,"color":"#dddddd"},{"offset":0.525,"color":"#b3b3b3"},{"offset":0.53125,"color":"#dddddd"},{"offset":0.5375,"color":"#b3b3b3"},{"offset":0.54375,"color":"#dddddd"},{"offset":0.55,"color":"#b3b3b3"},{"offset":0.55625,"color":"#dddddd"},{"offset":0.5625,"color":"#b3b3b3"},{"offset":0.56875,"color":"#dddddd"},{"offset":0.575,"color":"#b3b3b3"},{"offset":0.58125,"color":"#dddddd"},{"offset":0.5875,"color":"#b3b3b3"},{"offset":0.59375,"color":"#dddddd"},
        {"offset":0.6,"color":"#b3b3b3"},{"offset":0.60625,"color":"#dddddd"},{"offset":0.6125,"color":"#b3b3b3"},{"offset":0.61875,"color":"#dddddd"},{"offset":0.625,"color":"#b3b3b3"},{"offset":0.63125,"color":"#dddddd"},{"offset":0.6375,"color":"#b3b3b3"},{"offset":0.64375,"color":"#dddddd"},{"offset":0.65,"color":"#b3b3b3"},{"offset":0.65625,"color":"#dddddd"},{"offset":0.6625,"color":"#b3b3b3"},{"offset":0.66875,"color":"#dddddd"},{"offset":0.675,"color":"#b3b3b3"},{"offset":0.68125,"color":"#dddddd"},{"offset":0.6875,"color":"#b3b3b3"},{"offset":0.69375,"color":"#dddddd"},
        {"offset":0.7,"color":"#b3b3b3"},{"offset":0.70625,"color":"#dddddd"},{"offset":0.7125,"color":"#b3b3b3"},{"offset":0.71875,"color":"#dddddd"},{"offset":0.725,"color":"#b3b3b3"},{"offset":0.73125,"color":"#dddddd"},{"offset":0.7375,"color":"#b3b3b3"},{"offset":0.74375,"color":"#dddddd"},{"offset":0.75,"color":"#b3b3b3"},{"offset":0.75625,"color":"#dddddd"},{"offset":0.7625,"color":"#b3b3b3"},{"offset":0.76875,"color":"#dddddd"},{"offset":0.775,"color":"#b3b3b3"},{"offset":0.78125,"color":"#dddddd"},{"offset":0.7875,"color":"#b3b3b3"},{"offset":0.79375,"color":"#dddddd"},
        {"offset":0.8,"color":"#b3b3b3"},{"offset":0.80625,"color":"#dddddd"},{"offset":0.8125,"color":"#b3b3b3"},{"offset":0.81875,"color":"#dddddd"},{"offset":0.825,"color":"#b3b3b3"},{"offset":0.83125,"color":"#dddddd"},{"offset":0.8375,"color":"#b3b3b3"},{"offset":0.84375,"color":"#dddddd"},{"offset":0.85,"color":"#b3b3b3"},{"offset":0.85625,"color":"#dddddd"},{"offset":0.8625,"color":"#b3b3b3"},{"offset":0.86875,"color":"#dddddd"},{"offset":0.875,"color":"#b3b3b3"},{"offset":0.88125,"color":"#dddddd"},{"offset":0.8875,"color":"#b3b3b3"},{"offset":0.89375,"color":"#dddddd"},
        {"offset":0.9,"color":"#b3b3b3"},{"offset":0.90625,"color":"#dddddd"},{"offset":0.9125,"color":"#b3b3b3"},{"offset":0.91875,"color":"#dddddd"},{"offset":0.925,"color":"#b3b3b3"},{"offset":0.93125,"color":"#dddddd"},{"offset":0.9375,"color":"#b3b3b3"},{"offset":0.94375,"color":"#dddddd"},{"offset":0.95,"color":"#b3b3b3"},{"offset":0.95625,"color":"#dddddd"},{"offset":0.9625,"color":"#b3b3b3"},{"offset":0.96875,"color":"#dddddd"},{"offset":0.975,"color":"#b3b3b3"},{"offset":0.98125,"color":"#dddddd"},{"offset":0.9875,"color":"#b3b3b3"},{"offset":0.99375,"color":"#dddddd"},
        {"offset":1,"color":"#b3b3b3"}]}},
              "encoding": {"y": {"field": "value", "type": "quantitative"}}
            },
            {
              "mark": {"type": "rule", "strokeWidth": 1},
              "encoding": {
                "y": {"field": "value", "type": "quantitative"},
                "y2": {"field": "upper"},
                "stroke": {"field": "series", "type": "nominal", "legend": null,
                  "scale": {"domain": ["C-Sestamibi", "C-TcO2", "C-TcO4", "S-Sestamibi", "S-TcO2", "S-TcO4"], "range": ["#666666", "#ff0000", "#0000ff", "#aaaaaa", "#ff00ff", "#808000"]}}
              }
            },
            {
              "mark": {"type": "point", "shape": "stroke", "size": 81, "strokeWidth": 1, "opacity": 1},
              "encoding": {
                "y": {"field": "upper", "type": "quantitative"},
                "stroke": {"field": "series", "type": "nominal", "legend": null}
              }
            },
            {
              "transform": [{"filter": "datum.species == '99mTc-Sestamibi'"}],
              "mark": {"type": "text", "angle": 270, "dy": -31, "fontSize": 15, "fontWeight": "bold", "align": "center", "baseline": "middle", "color": "black"},
              "encoding": {
                "y": {"datum": 86.4, "type": "quantitative"},
                "text": {"field": "group"}
              }
            }
          ]
        },
        {
          "data": {"values": [{}]},
          "layer": [
            {
              "mark": {"type": "rect", "color": "white"},
              "encoding": {
                "x": {"datum": -15, "type": "quantitative", "scale": {"domain": [-15.2, 35], "nice": false, "zero": false},
                  "axis": {"values": [-10, 0, 10, 20, 30],
                    "labelExpr": "datum.value == 0 || datum.value == 20 ? datum.label : ''",
                    "tickSize": {"condition": {"test": "datum.value == 0 || datum.value == 20", "value": 6}, "value": 3},
                    "grid": false, "title": "Time(h)", "titleFontSize": 21, "titleFontWeight": "normal", "titlePadding": -3,
                    "labelFontSize": 20, "labelFontWeight": "bold", "labelPadding": 3, "labelFlush": false}},
                "x2": {"datum": 35},
                "y": {"datum": 25.3, "type": "quantitative"},
                "y2": {"datum": 75.0}
              }
            },
            {
              "mark": {"type": "rule", "color": "#222", "strokeWidth": 1},
              "encoding": {
                "x": {"datum": 10, "type": "quantitative"},
                "y": {"datum": 0, "type": "quantitative"},
                "y2": {"datum": 109}
              }
            },
            {
              "mark": {"type": "text", "text": "=", "angle": 330, "fontSize": 18, "color": "#222", "align": "center", "baseline": "middle"},
              "encoding": {
                "x": {"datum": -15.2, "type": "quantitative"},
                "y": {"datum": 50, "type": "quantitative"}
              }
            },
            {
              "mark": {"type": "text", "text": "(b)", "font": "Liberation Serif", "fontWeight": "bold", "fontSize": 22, "color": "black", "align": "center", "baseline": "middle"},
              "encoding": {
                "x": {"datum": -21.9, "type": "quantitative"},
                "y": {"datum": -6.0, "type": "quantitative"}
              }
            }
          ]
        }
      ]
    }
  ]
}
